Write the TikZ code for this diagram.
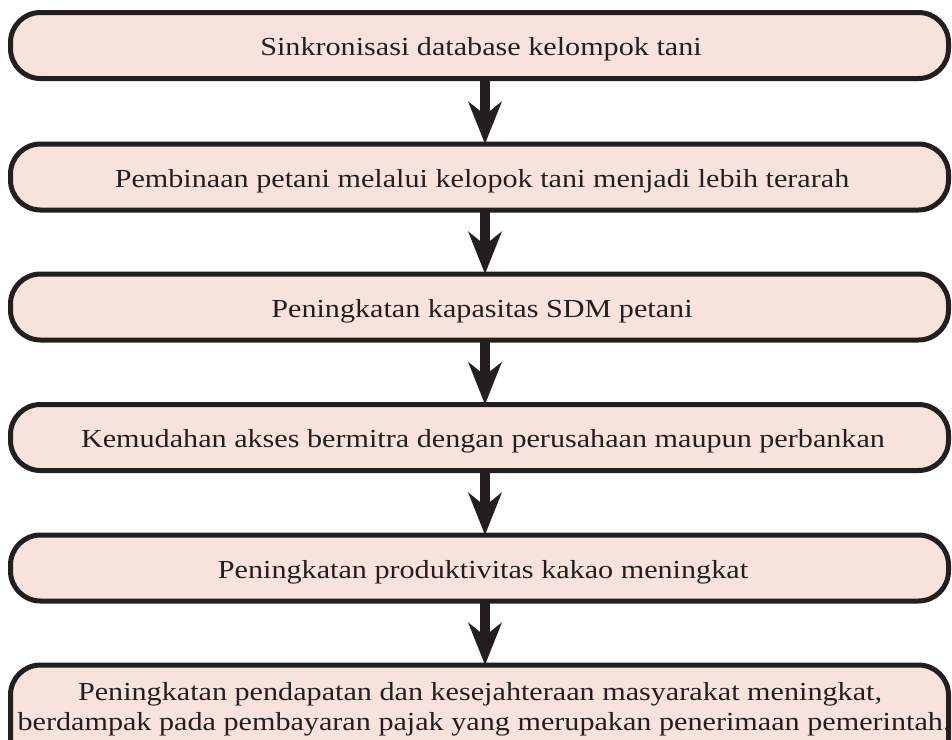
\documentclass[tikz,border=0pt]{standalone}
\usepackage{fontspec}
\setmainfont{Liberation Serif}[FakeStretch=1.16]
\usetikzlibrary{arrows.meta}
\definecolor{boxfill}{HTML}{F7E3DB}
\definecolor{ink}{HTML}{231F20}
\tikzset{
  flowbox/.style={draw=ink, fill=boxfill, line width=5pt, rounded corners=30pt,
    minimum width=938pt, minimum height=66pt, inner sep=0pt, outer sep=0pt},
  flowtext/.style={anchor=base, inner sep=0pt, text=ink,
    font=\fontsize{26pt}{30pt}\selectfont},
  flowarrow/.style={draw=ink, line width=10.5pt,
    -{Stealth[length=42pt, width=33pt, inset=13pt]}}
}
\begin{document}
\begin{tikzpicture}[x=1pt,y=-1pt]
\useasboundingbox (0,0) rectangle (952,739);
\node[flowbox] (b1) at (479.5,45.5) {};
\node[flowbox] (b2) at (479.5,177) {};
\node[flowbox] (b3) at (479.5,307) {};
\node[flowbox] (b4) at (479.5,437.5) {};
\node[flowbox] (b5) at (479.5,568) {};
\node[flowbox, minimum height=110pt] (b6) at (479.5,720) {};
\coordinate (ax) at (485,0);
\draw[flowarrow] (b1.south -| ax) -- (b2.north -| ax);
\draw[flowarrow] (b2.south -| ax) -- (b3.north -| ax);
\draw[flowarrow] (b3.south -| ax) -- (b4.north -| ax);
\draw[flowarrow] (b4.south -| ax) -- (b5.north -| ax);
\draw[flowarrow] (b5.south -| ax) -- (b6.north -| ax);
\node[flowtext] (t1) at (481,55.5) {Sinkronisasi database kelompok tani};
\node[flowtext] (t2) at (482,187) {Pembinaan petani melalui kelopok tani menjadi lebih terarah};
\node[flowtext] (t3) at (482,317) {Peningkatan kapasitas SDM petani};
\node[flowtext] (t4) at (483,447) {Kemudahan akses bermitra dengan perusahaan maupun perbankan};
\node[flowtext] (t5) at (483,578) {Peningkatan produktivitas kakao meningkat};
\node[flowtext] (t6a) at (480,700) {Peningkatan pendapatan dan kesejahteraan masyarakat meningkat,};
\node[flowtext] (t6b) at (484,730) {berdampak pada pembayaran pajak yang merupakan penerimaan pemerintah.};
\end{tikzpicture}
\end{document}
